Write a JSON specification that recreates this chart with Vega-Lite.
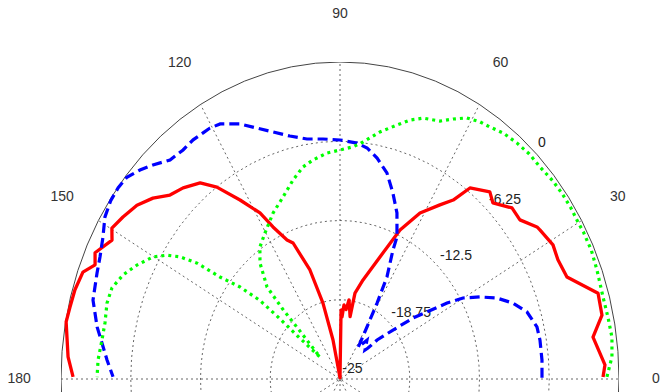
{
  "$schema": "https://vega.github.io/schema/vega-lite/v6.json",
  "width": 558,
  "height": 330,
  "autosize": {"type": "none"},
  "padding": {"left": 61, "top": 62, "right": 42, "bottom": 0},
  "background": "white",
  "config": {"view": {"stroke": null}},
  "datasets": {
    "rings": [
      {"r": 6.25, "a": [-10,-5,0,5,10,15,20,25,30,35,40,45,50,55,60,65,70,75,80,85,90,95,100,105,110,115,120,125,130,135,140,145,150,155,160,165,170,175,180,185,190]},
      {"r": 12.5, "a": [-10,-5,0,5,10,15,20,25,30,35,40,45,50,55,60,65,70,75,80,85,90,95,100,105,110,115,120,125,130,135,140,145,150,155,160,165,170,175,180,185,190]},
      {"r": 18.75, "a": [-10,-5,0,5,10,15,20,25,30,35,40,45,50,55,60,65,70,75,80,85,90,95,100,105,110,115,120,125,130,135,140,145,150,155,160,165,170,175,180,185,190]},
      {"r": 25, "a": [-10,-5,0,5,10,15,20,25,30,35,40,45,50,55,60,65,70,75,80,85,90,95,100,105,110,115,120,125,130,135,140,145,150,155,160,165,170,175,180,185,190]}
    ],
    "spokes": [
      {"s": 0, "r": -25}, {"s": 0, "r": 25},
      {"s": 30, "r": -25}, {"s": 30, "r": 25},
      {"s": 60, "r": -25}, {"s": 60, "r": 25},
      {"s": 90, "r": -25}, {"s": 90, "r": 25},
      {"s": 120, "r": -25}, {"s": 120, "r": 25},
      {"s": 150, "r": -25}, {"s": 150, "r": 25}
    ],
    "alab": [
      {"t": "0", "a": 0}, {"t": "30", "a": 30}, {"t": "60", "a": 60}, {"t": "90", "a": 90},
      {"t": "120", "a": 120}, {"t": "150", "a": 150}, {"t": "180", "a": 180}
    ],
    "rlab": [
      {"t": "-25", "r": 0}, {"t": "-18.75", "r": 6.25}, {"t": "-12.5", "r": 12.5},
      {"t": "-6.25", "r": 18.75}, {"t": "0", "r": 25}
    ],
    "red": [
      {"a":0.4,"d":-1.43},{"a":2.7,"d":-1.23},{"a":8.3,"d":-2.09},{"a":12.1,"d":-0.99},{"a":16.3,"d":-0.91},
      {"a":21.6,"d":-3.13},{"a":25.7,"d":-3.33},{"a":29.0,"d":-3.18},{"a":33.3,"d":-3.57},{"a":34.2,"d":-3.66},
      {"a":37.9,"d":-4.57},{"a":41.2,"d":-4.52},{"a":45.4,"d":-5.49},{"a":47.7,"d":-5.05},{"a":52.3,"d":-5.96},
      {"a":54.3,"d":-7.62},{"a":56.9,"d":-8.61},{"a":61.3,"d":-10.07},{"a":65.4,"d":-12.08},{"a":69.6,"d":-14.73},
      {"a":75.2,"d":-16.92},{"a":78.8,"d":-18.09},{"a":79.6,"d":-20.0},{"a":82.6,"d":-18.7},{"a":84.3,"d":-19.5},
      {"a":86.5,"d":-19.15},{"a":87.9,"d":-20.1},{"a":89.0,"d":-19.56},{"a":90.0,"d":-24.9},{"a":101.5,"d":-21.86},
      {"a":104.3,"d":-18.82},{"a":107.4,"d":-15.99},{"a":111.4,"d":-13.48},{"a":113.4,"d":-13.05},{"a":116.6,"d":-11.59},
      {"a":118.7,"d":-10.07},{"a":122.4,"d":-8.28},{"a":126.1,"d":-6.27},{"a":129.0,"d":-5.09},{"a":133.0,"d":-4.39},
      {"a":136.4,"d":-3.96},{"a":139.6,"d":-2.99},{"a":143.0,"d":-2.22},{"a":146.7,"d":-1.73},{"a":149.8,"d":-1.35},
      {"a":151.8,"d":-1.82},{"a":155.6,"d":-0.9},{"a":157.7,"d":-1.28},{"a":159.9,"d":-0.47},{"a":163.5,"d":-0.23},
      {"a":166.8,"d":-0.15},{"a":169.6,"d":-0.05},{"a":175.9,"d":-0.57},{"a":179.6,"d":-1.08}
    ],
    "blue": [
      {"a":0.3,"d":-6.9},{"a":4.7,"d":-6.84},{"a":9.7,"d":-6.82},{"a":13.1,"d":-6.88},{"a":17.5,"d":-7.43},
      {"a":21.1,"d":-8.38},{"a":24.4,"d":-9.55},{"a":27.3,"d":-10.89},{"a":30.1,"d":-12.26},{"a":32.0,"d":-13.69},
      {"a":36.3,"d":-16.88},{"a":39.1,"d":-18.88},{"a":42.8,"d":-20.47},{"a":44.2,"d":-21.5},{"a":45.6,"d":-21.8},
      {"a":51.8,"d":-21.1},{"a":57.0,"d":-22.0},{"a":59.5,"d":-20.24},{"a":61.0,"d":-18.15},{"a":62.4,"d":-15.92},
      {"a":65.0,"d":-13.77},{"a":65.5,"d":-12.69},{"a":68.7,"d":-10.95},{"a":72.1,"d":-9.58},{"a":75.5,"d":-8.21},
      {"a":79.2,"d":-7.26},{"a":82.4,"d":-6.62},{"a":85.3,"d":-6.33},{"a":90.0,"d":-6.15},{"a":94.6,"d":-6.01},
      {"a":98.9,"d":-5.84},{"a":103.2,"d":-5.32},{"a":107.1,"d":-4.62},{"a":110.6,"d":-3.86},{"a":114.0,"d":-2.98},
      {"a":118.1,"d":-2.2},{"a":120.5,"d":-2.03},{"a":122.3,"d":-2.04},{"a":124.9,"d":-2.0},{"a":127.9,"d":-2.11},
      {"a":131.4,"d":-1.97},{"a":134.8,"d":-1.21},{"a":137.4,"d":-0.65},{"a":140.2,"d":-0.14},{"a":142.8,"d":-0.05},
      {"a":145.6,"d":-0.1},{"a":148.8,"d":-0.37},{"a":152.2,"d":-0.99},{"a":155.9,"d":-1.44},{"a":159.0,"d":-1.68},
      {"a":164.3,"d":-2.01},{"a":169.3,"d":-2.85},{"a":172.4,"d":-3.48},{"a":175.9,"d":-4.07},{"a":179.5,"d":-4.66}
    ],
    "green": [
      {"a":0.4,"d":-1.08},{"a":4.1,"d":-0.57},{"a":7.7,"d":-0.41},{"a":11.5,"d":-0.5},{"a":15.3,"d":-0.56},
      {"a":20.5,"d":-0.42},{"a":24.2,"d":-0.3},{"a":28.0,"d":-0.3},{"a":30.2,"d":-0.35},{"a":33.1,"d":-0.3},
      {"a":36.3,"d":-0.3},{"a":39.4,"d":-0.35},{"a":43.0,"d":-0.49},{"a":46.3,"d":-0.45},{"a":49.6,"d":-0.55},
      {"a":53.0,"d":-0.71},{"a":55.9,"d":-1.01},{"a":58.3,"d":-1.16},{"a":61.1,"d":-1.48},{"a":63.7,"d":-2.13},
      {"a":66.2,"d":-2.77},{"a":70.1,"d":-3.12},{"a":72.9,"d":-3.63},{"a":75.7,"d":-4.33},{"a":79.6,"d":-5.19},
      {"a":83.7,"d":-6.2},{"a":86.4,"d":-6.66},{"a":90.0,"d":-6.94},{"a":93.7,"d":-7.14},{"a":98.0,"d":-7.56},
      {"a":101.2,"d":-7.95},{"a":105.0,"d":-8.75},{"a":109.6,"d":-9.77},{"a":114.6,"d":-10.6},{"a":120.3,"d":-11.67},
      {"a":124.6,"d":-12.36},{"a":128.1,"d":-13.38},{"a":132.0,"d":-15.23},{"a":133.0,"d":-17.54},{"a":133.5,"d":-19.73},
      {"a":136.0,"d":-22.5},{"a":138.3,"d":-19.9},{"a":138.6,"d":-17.7},{"a":139.2,"d":-15.5},{"a":141.0,"d":-13.47},
      {"a":143.2,"d":-11.57},{"a":144.5,"d":-9.26},{"a":146.1,"d":-7.73},{"a":147.8,"d":-6.67},{"a":150.1,"d":-5.68},
      {"a":153.7,"d":-4.71},{"a":157.1,"d":-3.9},{"a":160.6,"d":-3.34},{"a":164.0,"d":-3.28},{"a":168.1,"d":-3.48},
      {"a":171.8,"d":-3.45},{"a":176.0,"d":-3.27},{"a":179.6,"d":-3.23}
    ]
  },
  "layer": [
    {
      "data": {"name": "rings"},
      "transform": [
        {"flatten": ["a"]},
        {"filter": "datum.r < 25"},
        {"calculate": "datum.r*cos(datum.a*PI/180)", "as": "x"},
        {"calculate": "datum.r*sin(datum.a*PI/180)", "as": "y"}
      ],
      "mark": {"type": "line", "color": "#555555", "strokeWidth": 0.9, "strokeDash": [2, 3], "clip": true},
      "encoding": {
        "x": {"field": "x", "type": "quantitative", "scale": {"domain": [-25, 25], "nice": false, "zero": false}, "axis": null},
        "y": {"field": "y", "type": "quantitative", "scale": {"domain": [-1.025, 25], "nice": false, "zero": false}, "axis": null},
        "detail": {"field": "r"},
        "order": {"field": "a", "type": "quantitative"}
      }
    },
    {
      "data": {"name": "spokes"},
      "transform": [
        {"calculate": "datum.r*cos(datum.s*PI/180)", "as": "x"},
        {"calculate": "datum.r*sin(datum.s*PI/180)", "as": "y"}
      ],
      "mark": {"type": "line", "color": "#555555", "strokeWidth": 0.9, "strokeDash": [2, 3], "clip": true},
      "encoding": {
        "x": {"field": "x", "type": "quantitative", "scale": {"domain": [-25, 25], "nice": false, "zero": false}, "axis": null},
        "y": {"field": "y", "type": "quantitative", "scale": {"domain": [-1.025, 25], "nice": false, "zero": false}, "axis": null},
        "detail": {"field": "s"},
        "order": {"field": "r", "type": "quantitative"}
      }
    },
    {
      "data": {"name": "rings"},
      "transform": [
        {"flatten": ["a"]},
        {"filter": "datum.r == 25"},
        {"calculate": "datum.r*cos(datum.a*PI/180)", "as": "x"},
        {"calculate": "datum.r*sin(datum.a*PI/180)", "as": "y"}
      ],
      "mark": {"type": "line", "color": "#444444", "strokeWidth": 1, "clip": true},
      "encoding": {
        "x": {"field": "x", "type": "quantitative", "scale": {"domain": [-25, 25], "nice": false, "zero": false}, "axis": null},
        "y": {"field": "y", "type": "quantitative", "scale": {"domain": [-1.025, 25], "nice": false, "zero": false}, "axis": null},
        "detail": {"field": "r"},
        "order": {"field": "a", "type": "quantitative"}
      }
    },
    {
      "data": {"name": "alab"},
      "transform": [
        {"filter": "datum.a > 0"},
        {"calculate": "28.75*cos(datum.a*PI/180)", "as": "x"},
        {"calculate": "28.75*sin(datum.a*PI/180)", "as": "y"}
      ],
      "mark": {"type": "text", "font": "Liberation Sans", "fontSize": 14, "color": "#333333", "align": "center", "baseline": "middle"},
      "encoding": {
        "x": {"field": "x", "type": "quantitative", "scale": {"domain": [-25, 25], "nice": false, "zero": false}, "axis": null},
        "y": {"field": "y", "type": "quantitative", "scale": {"domain": [-1.025, 25], "nice": false, "zero": false}, "axis": null},
        "text": {"field": "t"}
      }
    },
    {
      "data": {"name": "alab"},
      "transform": [
        {"filter": "datum.a == 0"},
        {"calculate": "28.75*cos(datum.a*PI/180)", "as": "x"},
        {"calculate": "28.75*sin(datum.a*PI/180)", "as": "y"}
      ],
      "mark": {"type": "text", "font": "Liberation Sans", "fontSize": 14, "color": "#333333", "align": "right", "baseline": "middle", "dx": -1},
      "encoding": {
        "x": {"field": "x", "type": "quantitative", "scale": {"domain": [-25, 25], "nice": false, "zero": false}, "axis": null},
        "y": {"field": "y", "type": "quantitative", "scale": {"domain": [-1.025, 25], "nice": false, "zero": false}, "axis": null},
        "text": {"field": "t"}
      }
    },
    {
      "data": {"name": "rlab"},
      "transform": [
        {"calculate": "(datum.r+0.3)*cos(45.5*PI/180)", "as": "x"},
        {"calculate": "(datum.r+0.3)*sin(45.5*PI/180)", "as": "y"}
      ],
      "mark": {"type": "text", "font": "Liberation Sans", "fontSize": 14, "color": "#222222", "align": "left", "baseline": "bottom"},
      "encoding": {
        "x": {"field": "x", "type": "quantitative", "scale": {"domain": [-25, 25], "nice": false, "zero": false}, "axis": null},
        "y": {"field": "y", "type": "quantitative", "scale": {"domain": [-1.025, 25], "nice": false, "zero": false}, "axis": null},
        "text": {"field": "t"}
      }
    },
    {
      "data": {"name": "red"},
      "transform": [
        {"calculate": "(datum.d+25)*cos(datum.a*PI/180)", "as": "x"},
        {"calculate": "(datum.d+25)*sin(datum.a*PI/180)", "as": "y"}
      ],
      "mark": {"type": "line", "color": "#ff0000", "strokeWidth": 3.3, "strokeJoin": "round"},
      "encoding": {
        "x": {"field": "x", "type": "quantitative", "scale": {"domain": [-25, 25], "nice": false, "zero": false}, "axis": null},
        "y": {"field": "y", "type": "quantitative", "scale": {"domain": [-1.025, 25], "nice": false, "zero": false}, "axis": null},
        "order": {"field": "a", "type": "quantitative"}
      }
    },
    {
      "data": {"name": "blue"},
      "transform": [
        {"calculate": "(datum.d+25)*cos(datum.a*PI/180)", "as": "x"},
        {"calculate": "(datum.d+25)*sin(datum.a*PI/180)", "as": "y"}
      ],
      "mark": {"type": "line", "color": "#0000ff", "strokeWidth": 3.2, "strokeDash": [10, 5]},
      "encoding": {
        "x": {"field": "x", "type": "quantitative", "scale": {"domain": [-25, 25], "nice": false, "zero": false}, "axis": null},
        "y": {"field": "y", "type": "quantitative", "scale": {"domain": [-1.025, 25], "nice": false, "zero": false}, "axis": null},
        "order": {"field": "a", "type": "quantitative"}
      }
    },
    {
      "data": {"name": "green"},
      "transform": [
        {"calculate": "(datum.d+25)*cos(datum.a*PI/180)", "as": "x"},
        {"calculate": "(datum.d+25)*sin(datum.a*PI/180)", "as": "y"}
      ],
      "mark": {"type": "line", "color": "#00ff00", "strokeWidth": 3.2, "strokeDash": [3, 4]},
      "encoding": {
        "x": {"field": "x", "type": "quantitative", "scale": {"domain": [-25, 25], "nice": false, "zero": false}, "axis": null},
        "y": {"field": "y", "type": "quantitative", "scale": {"domain": [-1.025, 25], "nice": false, "zero": false}, "axis": null},
        "order": {"field": "a", "type": "quantitative"}
      }
    }
  ]
}
